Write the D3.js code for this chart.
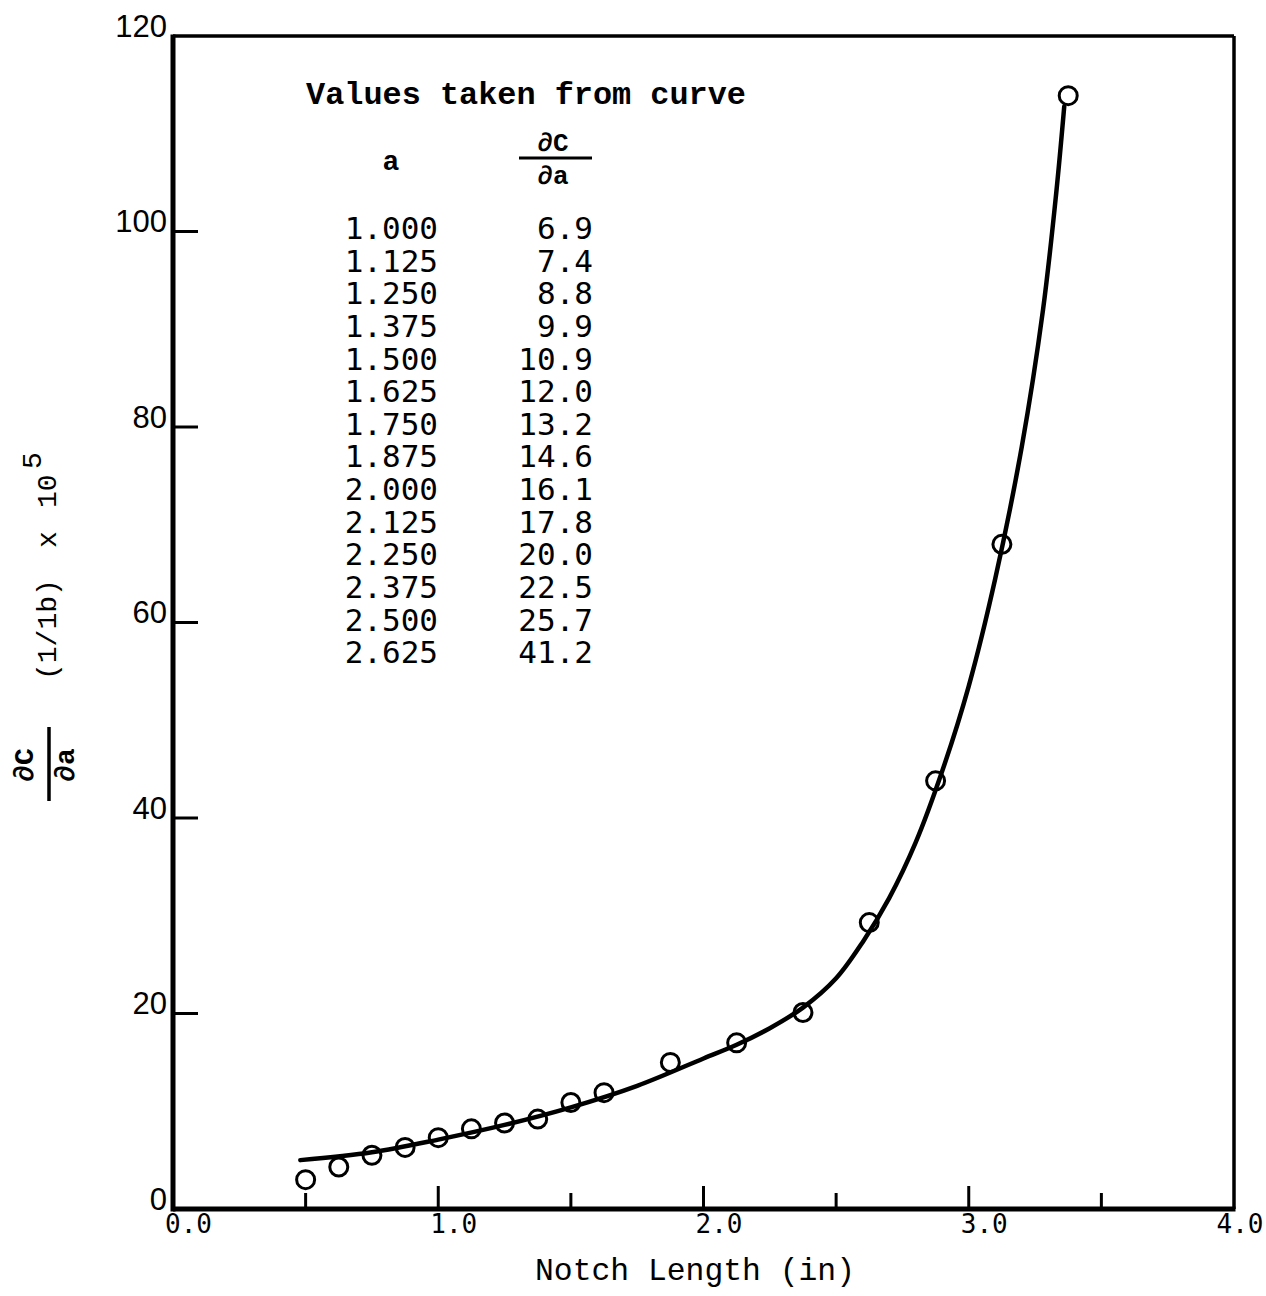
<!DOCTYPE html>
<html>
<head>
  <meta charset="utf-8">
  <title>Notch Length</title>
  <script src="https://d3js.org/d3.v7.min.js"></script>
  <style>
    body { margin: 0; background: #fff; }
    svg { display: block; }
  </style>
</head>
<body>
<svg id="chart" width="1266" height="1296"></svg>
<script>
// measured points (circles)
var pointX = [0.5, 0.625, 0.75, 0.875, 1.0, 1.125, 1.25, 1.375, 1.5, 1.625, 1.875, 2.125, 2.375, 2.625, 2.875, 3.125, 3.375];
var pointY = [3.0, 4.3, 5.5, 6.3, 7.3, 8.2, 8.8, 9.2, 10.9, 11.9, 15.0, 17.0, 20.1, 29.3, 43.8, 68.0, 113.9];

// fitted curve
var curveX = [0.48, 0.75, 1.0, 1.25, 1.5, 1.75, 2.0, 2.125, 2.25, 2.375, 2.5, 2.6, 2.7, 2.8, 2.9, 3.0, 3.1, 3.2, 3.28, 3.33, 3.36];
var curveY = [5.0, 5.8, 7.1, 8.6, 10.4, 12.6, 15.4, 16.8, 18.5, 20.6, 23.6, 27.3, 31.8, 37.5, 44.8, 53.5, 64.5, 78.0, 92.0, 104.0, 112.8];

// table "Values taken from curve"
var tableA = ["1.000", "1.125", "1.250", "1.375", "1.500", "1.625", "1.750", "1.875", "2.000", "2.125", "2.250", "2.375", "2.500", "2.625"];
var tableD = ["6.9", "7.4", "8.8", "9.9", "10.9", "12.0", "13.2", "14.6", "16.1", "17.8", "20.0", "22.5", "25.7", "41.2"];

var xTicks = [0, 1, 2, 3, 4];
var xMinor = [0.5, 1.5, 2.5, 3.5];
var xTickLabels = ["0.0", "1.0", "2.0", "3.0", "4.0"];
var yTicks = [0, 20, 40, 60, 80, 100, 120];

var margin = {top: 36, left: 173},
    width = 1061,
    height = 1173;

var svg = d3.select("#chart");
var g = svg.append("g").attr("transform", "translate(" + margin.left + "," + margin.top + ")");

var x = d3.scaleLinear().domain([0, 4]).range([0, width]);
var y = d3.scaleLinear().domain([0, 120]).range([height, 0]);

// frame
g.append("line").attr("x1", 0).attr("x2", width).attr("y1", 0).attr("y2", 0)
  .attr("stroke", "#000").attr("stroke-width", 3.5);
g.append("line").attr("x1", width).attr("x2", width).attr("y1", 0).attr("y2", height)
  .attr("stroke", "#000").attr("stroke-width", 3.5);
g.append("line").attr("x1", 0).attr("x2", 0).attr("y1", -1.5).attr("y2", height + 2.5)
  .attr("stroke", "#000").attr("stroke-width", 5);
g.append("line").attr("x1", 0).attr("x2", width + 1.5).attr("y1", height).attr("y2", height)
  .attr("stroke", "#000").attr("stroke-width", 5);

// y axis labels
var yAxis = g.append("g")
  .call(d3.axisLeft(y).tickValues(yTicks).tickSize(0).tickPadding(6).tickFormat(d3.format("d")));
yAxis.select(".domain").remove();
yAxis.selectAll("text")
  .attr("dy", "0.0em")
  .style("font-family", "'Liberation Sans', Arial, sans-serif")
  .style("font-size", "31px")
  .attr("fill", "#000");

// y ticks, pointing inward
g.selectAll(".ytick")
  .data(yTicks.filter(function(d) { return d > 0 && d < 120; }))
  .enter().append("line")
    .attr("x1", 0).attr("x2", 25)
    .attr("y1", function(d) { return y(d); })
    .attr("y2", function(d) { return y(d); })
    .attr("stroke", "#000").attr("stroke-width", 3);

// x ticks
g.selectAll(".xmajor")
  .data([1, 2, 3])
  .enter().append("line")
    .attr("x1", function(d) { return x(d); })
    .attr("x2", function(d) { return x(d); })
    .attr("y1", height).attr("y2", height - 23)
    .attr("stroke", "#000").attr("stroke-width", 3);
g.selectAll(".xminor")
  .data(xMinor)
  .enter().append("line")
    .attr("x1", function(d) { return x(d); })
    .attr("x2", function(d) { return x(d); })
    .attr("y1", height).attr("y2", height - 16)
    .attr("stroke", "#000").attr("stroke-width", 3);

// x tick labels
var xAxis = g.append("g")
  .attr("transform", "translate(0," + height + ")")
  .call(d3.axisBottom(x).tickValues(xTicks).tickSize(0).tickPadding(6)
    .tickFormat(function(d, i) { return xTickLabels[i]; }));
xAxis.select(".domain").remove();
xAxis.selectAll("text")
  .attr("text-anchor", function(d) { return d === 4 ? "end" : "middle"; })
  .attr("dx", function(d) { return d === 4 ? 29 : 15; })
  .style("font-family", "'DejaVu Sans Mono', monospace")
  .style("font-size", "26px")
  .attr("fill", "#000");

// x axis title
g.append("text")
  .attr("x", 695 - margin.left)
  .attr("y", height + 71)
  .attr("text-anchor", "middle")
  .attr("textLength", 320)
  .attr("lengthAdjust", "spacingAndGlyphs")
  .style("font-family", "'Liberation Mono', 'Courier New', monospace")
  .style("font-size", "32px")
  .text("Notch Length (in)");

// y axis title (rotated)
var yt = svg.append("g").attr("transform", "translate(47,765) rotate(-90)");
yt.append("text")
  .attr("x", 0).attr("y", -14)
  .attr("text-anchor", "middle")
  .style("font-family", "'Liberation Mono', monospace")
  .style("font-weight", "bold")
  .style("font-size", "28px")
  .text("\u2202C");
yt.append("line")
  .attr("x1", -36).attr("x2", 38).attr("y1", 2).attr("y2", 2)
  .attr("stroke", "#000").attr("stroke-width", 3.5);
yt.append("text")
  .attr("x", 0).attr("y", 27)
  .attr("text-anchor", "middle")
  .style("font-family", "'Liberation Mono', monospace")
  .style("font-weight", "bold")
  .style("font-size", "28px")
  .text("\u2202a");
var ylab = yt.append("text")
  .attr("y", 9)
  .style("font-family", "'Liberation Mono', monospace")
  .style("font-size", "28px");
ylab.append("tspan").attr("x", 85).text("(1/1b)");
ylab.append("tspan").attr("x", 217).text("x");
ylab.append("tspan").attr("x", 257).text("10");
ylab.append("tspan").attr("x", 296).attr("dy", -15).text("5");

// curve
var curveData = curveX.map(function(d, i) { return [d, curveY[i]]; });
var line = d3.line()
  .x(function(d) { return x(d[0]); })
  .y(function(d) { return y(d[1]); })
  .curve(d3.curveCatmullRom.alpha(0.5));
g.append("path")
  .datum(curveData)
  .attr("d", line)
  .attr("fill", "none")
  .attr("stroke", "#000")
  .attr("stroke-width", 4.5)
  .attr("stroke-linecap", "round");

// points
g.selectAll(".pt")
  .data(pointX)
  .enter().append("circle")
    .attr("cx", function(d) { return x(d); })
    .attr("cy", function(d, i) { return y(pointY[i]); })
    .attr("r", 9)
    .attr("fill", "none")
    .attr("stroke", "#000")
    .attr("stroke-width", 3);

// table of values
var tbl = svg.append("g");
tbl.append("text")
  .attr("x", 306).attr("y", 104)
  .attr("textLength", 440)
  .attr("lengthAdjust", "spacingAndGlyphs")
  .style("font-family", "'Liberation Mono', 'Courier New', monospace")
  .style("font-weight", "bold")
  .style("font-size", "31px")
  .text("Values taken from curve");
tbl.append("text")
  .attr("x", 391).attr("y", 170)
  .attr("text-anchor", "middle")
  .style("font-family", "'Liberation Mono', monospace")
  .style("font-weight", "bold")
  .style("font-size", "28px")
  .text("a");
tbl.append("text")
  .attr("x", 553).attr("y", 151)
  .attr("text-anchor", "middle")
  .style("font-family", "'Liberation Mono', monospace")
  .style("font-weight", "bold")
  .style("font-size", "26px")
  .text("\u2202C");
tbl.append("line")
  .attr("x1", 519).attr("x2", 592).attr("y1", 158).attr("y2", 158)
  .attr("stroke", "#000").attr("stroke-width", 3);
tbl.append("text")
  .attr("x", 553).attr("y", 184)
  .attr("text-anchor", "middle")
  .style("font-family", "'Liberation Mono', monospace")
  .style("font-weight", "bold")
  .style("font-size", "26px")
  .text("\u2202a");

var rowY = d3.scaleLinear().domain([0, tableA.length - 1]).range([228, 652]);
tbl.selectAll(".ta")
  .data(tableA)
  .enter().append("text")
    .attr("x", 438)
    .attr("y", function(d, i) { return rowY(i); })
    .attr("dy", "0.36em")
    .attr("text-anchor", "end")
    .style("font-family", "'DejaVu Sans Mono', monospace")
    .style("font-size", "31px")
    .text(function(d) { return d; });
tbl.selectAll(".td")
  .data(tableD)
  .enter().append("text")
    .attr("x", 593)
    .attr("y", function(d, i) { return rowY(i); })
    .attr("dy", "0.36em")
    .attr("text-anchor", "end")
    .style("font-family", "'DejaVu Sans Mono', monospace")
    .style("font-size", "31px")
    .text(function(d) { return d; });
</script>
</body>
</html>
